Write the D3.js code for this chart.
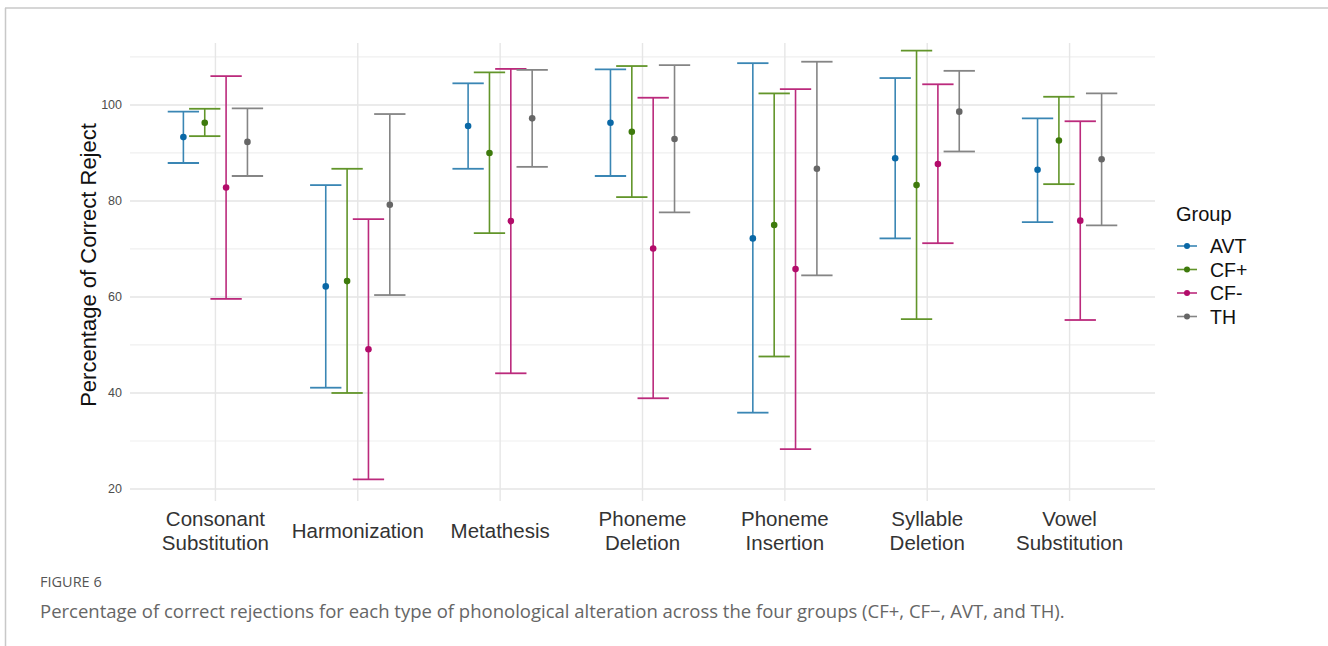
<!DOCTYPE html>
<html><head><meta charset="utf-8">
<script src="https://cdn.jsdelivr.net/npm/d3@7/dist/d3.min.js"></script>
<style>body{margin:0;background:#fff;} svg{display:block;}</style>
</head><body>
<svg id="chart" width="1328" height="646"></svg>
<script>
const categories = ["Consonant Substitution","Harmonization","Metathesis","Phoneme Deletion","Phoneme Insertion","Syllable Deletion","Vowel Substitution"];
const groups = ["AVT","CF+","CF-","TH"];
// means, lower and upper bounds per group (in category order)
const meanAVT = [93.3, 62.2, 95.6, 96.3, 72.2, 88.9, 86.5];
const lowAVT  = [87.9, 41.1, 86.7, 85.2, 35.9, 72.2, 75.6];
const highAVT = [98.6, 83.3, 104.5, 107.4, 108.7, 105.6, 97.2];
const meanCFp = [96.3, 63.3, 90.0, 94.4, 75.0, 83.3, 92.6];
const lowCFp  = [93.5, 40.0, 73.3, 80.8, 47.6, 55.4, 83.5];
const highCFp = [99.2, 86.7, 106.8, 108.1, 102.4, 111.3, 101.7];
const meanCFm = [82.8, 49.1, 75.8, 70.1, 65.8, 87.7, 75.9];
const lowCFm  = [59.6, 22.0, 44.1, 38.9, 28.3, 71.2, 55.2];
const highCFm = [106.0, 76.2, 107.5, 101.5, 103.3, 104.3, 96.6];
const meanTH  = [92.3, 79.2, 97.2, 92.9, 86.7, 98.6, 88.7];
const lowTH   = [85.2, 60.4, 87.1, 77.6, 64.5, 90.3, 74.9];
const highTH  = [99.3, 98.1, 107.3, 108.3, 109.0, 107.1, 102.4];
const yTicks = [20, 40, 60, 80, 100];
const yMinor = [30, 50, 70, 90, 110];

const seriesData = [
  {g:"AVT", mean:meanAVT, low:lowAVT, high:highAVT, line:"#3a86b4", pt:"#0a68a6"},
  {g:"CF+", mean:meanCFp, low:lowCFp, high:highCFp, line:"#62952a", pt:"#3e7a0c"},
  {g:"CF-", mean:meanCFm, low:lowCFm, high:highCFm, line:"#bb2a7c", pt:"#b30c6a"},
  {g:"TH",  mean:meanTH,  low:lowTH,  high:highTH,  line:"#858585", pt:"#666666"}
];

const svg = d3.select("#chart");
const P = {left:130, right:1155, top:43, bottom:501};

// frame
svg.append("line").attr("x1",5).attr("x2",1328).attr("y1",8).attr("y2",8).attr("stroke","#c8c8c8").attr("stroke-width",1.5);
svg.append("line").attr("x1",5.5).attr("x2",5.5).attr("y1",8).attr("y2",646).attr("stroke","#c8c8c8").attr("stroke-width",1.5);

const y = d3.scaleLinear().domain([17.5, 112.9]).range([P.bottom, P.top]);
const x = d3.scalePoint().domain(categories).range([P.left, P.right]).padding(0.6);
const dodge = d3.scalePoint().domain(groups).range([-0.225, 0.225]);
const step = x.step();

const grid = svg.append("g");
yMinor.forEach(v => grid.append("line").attr("x1",P.left).attr("x2",P.right).attr("y1",y(v)).attr("y2",y(v)).attr("stroke","#efefef").attr("stroke-width",1.2));
yTicks.forEach(v => grid.append("line").attr("x1",P.left).attr("x2",P.right).attr("y1",y(v)).attr("y2",y(v)).attr("stroke","#e4e4e4").attr("stroke-width",1.5));
categories.forEach(c => grid.append("line").attr("x1",x(c)).attr("x2",x(c)).attr("y1",P.top).attr("y2",P.bottom).attr("stroke","#e6e6e6").attr("stroke-width",1.4));

// y axis labels
const yAxis = svg.append("g").attr("transform",`translate(${P.left},0)`)
  .call(d3.axisLeft(y).tickValues(yTicks).tickSize(0).tickPadding(8));
yAxis.select(".domain").remove();
yAxis.selectAll("text").attr("font-family","Liberation Sans, Arial, sans-serif").attr("font-size",12.5).attr("fill","#4d4d4d");

// x axis labels
const xAxis = svg.append("g").attr("transform",`translate(0,${P.bottom})`)
  .call(d3.axisBottom(x).tickSize(0).tickFormat(""));
xAxis.select(".domain").remove();
categories.forEach(c => {
  const words = c.split(" ");
  const t = svg.append("text").attr("x",x(c)).attr("text-anchor","middle")
    .attr("font-family","Liberation Sans, Arial, sans-serif").attr("font-size",20.5).attr("fill","#333");
  if (words.length === 1) {
    t.attr("y",538).text(c);
  } else {
    t.append("tspan").attr("x",x(c)).attr("y",526).text(words[0]);
    t.append("tspan").attr("x",x(c)).attr("y",550).text(words[1]);
  }
});

// y title
svg.append("text").attr("transform",`translate(96,265) rotate(-90)`)
  .attr("text-anchor","middle").attr("font-family","Liberation Sans, Arial, sans-serif")
  .attr("font-size",22).attr("fill","#111").text("Percentage of Correct Reject");

// error bars
const capHalf = 0.11*step;
seriesData.forEach(s => {
  const g = svg.append("g");
  categories.forEach((c,i) => {
    const cx = x(c) + dodge(s.g)*step;
    g.append("line").attr("x1",cx).attr("x2",cx).attr("y1",y(s.low[i])).attr("y2",y(s.high[i])).attr("stroke",s.line).attr("stroke-width",1.6);
    g.append("line").attr("x1",cx-capHalf).attr("x2",cx+capHalf).attr("y1",y(s.low[i])).attr("y2",y(s.low[i])).attr("stroke",s.line).attr("stroke-width",1.8);
    g.append("line").attr("x1",cx-capHalf).attr("x2",cx+capHalf).attr("y1",y(s.high[i])).attr("y2",y(s.high[i])).attr("stroke",s.line).attr("stroke-width",1.8);
    g.append("circle").attr("cx",cx).attr("cy",y(s.mean[i])).attr("r",3.3).attr("fill",s.pt);
  });
});

// legend
const lg = svg.append("g");
lg.append("text").attr("x",1176).attr("y",221).attr("font-family","Liberation Sans, Arial, sans-serif").attr("font-size",20).attr("fill","#111").text("Group");
seriesData.forEach((s,i) => {
  const ly = 246 + i*23.5;
  lg.append("line").attr("x1",1177).attr("x2",1197).attr("y1",ly).attr("y2",ly).attr("stroke",s.line).attr("stroke-width",1.6);
  lg.append("circle").attr("cx",1187).attr("cy",ly).attr("r",3).attr("fill",s.pt);
  lg.append("text").attr("x",1210).attr("y",ly+7).attr("font-family","Liberation Sans, Arial, sans-serif").attr("font-size",19.5).attr("fill","#111").text(s.g);
});

// caption
svg.append("text").attr("x",40).attr("y",587).attr("font-family","Open Sans, Lato, sans-serif").attr("font-size",14.5).attr("fill","#555").text("FIGURE 6");
svg.append("text").attr("x",40).attr("y",618).attr("font-family","Open Sans, Lato, sans-serif").attr("font-size",18.5).attr("fill","#666")
  .text("Percentage of correct rejections for each type of phonological alteration across the four groups (CF+, CF\u2212, AVT, and TH).");
</script>
</body></html>
